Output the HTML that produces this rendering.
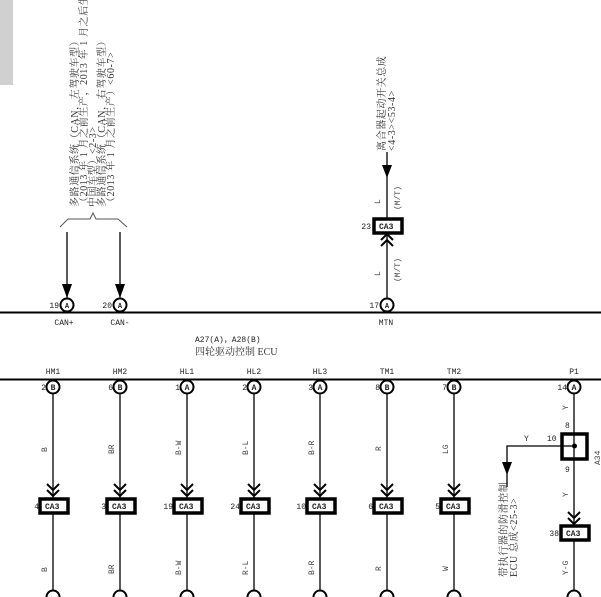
<!DOCTYPE html>
<html><head><meta charset="utf-8"><style>
html,body{margin:0;padding:0;background:#fff;}
svg{display:block;font-family:"Liberation Mono","Noto Sans CJK SC",monospace;}
.t{font-size:8px;fill:#222;}
.w{font-size:8px;fill:#444;}
.cj{font-family:"Liberation Serif","Noto Serif CJK SC",serif;font-size:10px;fill:#333;}
</style></head><body>
<svg width="601" height="597" viewBox="0 0 601 597" xmlns="http://www.w3.org/2000/svg">
<defs>
<g id="cir"><circle r="6.5" fill="#fff" stroke="#000" stroke-width="2"/></g>
<g id="chev" fill="none" stroke="#000" stroke-width="2"><path d="M-6,-14 L0,-8 L6,-14 M-6,-8 L0,-2 L6,-8"/></g>
<g id="box"><rect x="-13" y="-7" width="28" height="14" fill="#fff" stroke="#000" stroke-width="3.5"/></g>
</defs>
<rect x="0" y="0" width="13" height="85" fill="#d0d0d0"/>

<g class="cj">
<text transform="translate(78,207) rotate(-90)" letter-spacing="0.6">多路通信系统（CAN，左驾驶车型）</text>
<text transform="translate(87,207) rotate(-90)" letter-spacing="0.6">（2013 年 1 月之前生产，2013 年 1 月之后生产</text>
<text transform="translate(96,207) rotate(-90)" letter-spacing="0.6">中国车型）&lt;2-3&gt;</text>
<text transform="translate(105,207) rotate(-90)" letter-spacing="0.6">多路通信系统（CAN，右驾驶车型）</text>
<text transform="translate(114,207) rotate(-90)" letter-spacing="0.6">（2013 年 1 月之前生产）&lt;60-7&gt;</text>
<text transform="translate(385,151) rotate(-90)" letter-spacing="0.6">离合器起动开关总成</text>
<text transform="translate(395,151) rotate(-90)" letter-spacing="0.6">&lt;4-3&gt;&lt;53-4&gt;</text>
<text transform="translate(507,577) rotate(-90)" letter-spacing="0.6">带执行器的防滑控制</text>
<text transform="translate(517,577) rotate(-90)" letter-spacing="0.6">ECU 总成&lt;25-3&gt;</text>
</g>
<path d="M60,227 L68,219 L90,219 L93,213 L96,219 L118,219 L127,227" fill="none" stroke="#555" stroke-width="1"/>

<g stroke="#000" stroke-width="1.3">
<line x1="67" y1="232" x2="67" y2="298"/><line x1="120" y1="232" x2="120" y2="298"/>
<line x1="387" y1="152" x2="387" y2="298"/>
</g>
<g fill="#000"><path d="M62,284 L72,284 L67,298Z"/><path d="M115,284 L125,284 L120,298Z"/><path d="M382,165 L392,165 L387,178Z"/></g>

<line x1="0" y1="312.5" x2="601" y2="312.5" stroke="#000" stroke-width="2"/>
<use href="#cir" x="67" y="305"/><use href="#cir" x="120" y="305"/><use href="#cir" x="387" y="305"/>
<g class="t" font-weight="bold" text-anchor="middle">
<text x="67" y="308" font-size="7">A</text><text x="120" y="308" font-size="7">A</text><text x="387" y="308" font-size="7">A</text>
</g>
<g class="t" text-anchor="end"><text x="59" y="308">19</text><text x="112" y="308">20</text><text x="379" y="308">17</text></g>
<g class="t" text-anchor="middle"><text x="64" y="325">CAN+</text><text x="120" y="325">CAN-</text><text x="386" y="325">MTN</text></g>

<use href="#box" x="387" y="226"/><text class="t" x="379" y="229" font-weight="bold">CA3</text>
<text class="t" x="371" y="229" text-anchor="end">23</text>
<g fill="none" stroke="#000" stroke-width="2"><path d="M381,240 L387,234 L393,240 M381,246 L387,240 L393,246"/></g>
<g class="w"><text transform="translate(380,204) rotate(-90)">L</text><text transform="translate(400,210) rotate(-90)">(M/T)</text>
<text transform="translate(380,276) rotate(-90)">L</text><text transform="translate(400,282) rotate(-90)">(M/T)</text></g>

<text class="t" x="195" y="342" font-size="9">A27(A)，A28(B)</text>
<text class="cj" x="195" y="355">四轮驱动控制 ECU</text>

<line x1="0" y1="379.5" x2="601" y2="379.5" stroke="#000" stroke-width="2"/>
<g class="t" text-anchor="middle">
<text x="53" y="374">HM1</text><text x="120" y="374">HM2</text><text x="187" y="374">HL1</text><text x="254" y="374">HL2</text>
<text x="320" y="374">HL3</text><text x="387" y="374">TM1</text><text x="454" y="374">TM2</text><text x="574" y="374">P1</text>
</g>
<g stroke="#000" stroke-width="1.3">
<line x1="53" y1="386" x2="53" y2="597"/><line x1="120" y1="386" x2="120" y2="597"/><line x1="187" y1="386" x2="187" y2="597"/>
<line x1="254" y1="386" x2="254" y2="597"/><line x1="320" y1="386" x2="320" y2="597"/><line x1="387" y1="386" x2="387" y2="597"/>
<line x1="454" y1="386" x2="454" y2="597"/><line x1="574" y1="386" x2="574" y2="597"/>
<polyline points="574,446 507,446 507,487" fill="none"/>
</g>
<path d="M502,462 L512,462 L507,475Z" fill="#000"/>
<g>
<use href="#cir" x="53" y="387"/><use href="#cir" x="120" y="387"/><use href="#cir" x="187" y="387"/><use href="#cir" x="254" y="387"/>
<use href="#cir" x="320" y="387"/><use href="#cir" x="387" y="387"/><use href="#cir" x="454" y="387"/><use href="#cir" x="574" y="387"/>
<use href="#cir" x="53" y="597"/><use href="#cir" x="120" y="597"/><use href="#cir" x="187" y="597"/><use href="#cir" x="254" y="597"/>
<use href="#cir" x="320" y="597"/><use href="#cir" x="387" y="597"/><use href="#cir" x="454" y="597"/><use href="#cir" x="574" y="597"/>
</g>
<g class="t" font-weight="bold" text-anchor="middle" font-size="7">
<text x="53" y="390">B</text><text x="120" y="390">B</text><text x="187" y="390">A</text><text x="254" y="390">A</text>
<text x="320" y="390">A</text><text x="387" y="390">B</text><text x="454" y="390">B</text><text x="574" y="390">A</text>
</g>
<g class="t" text-anchor="end">
<text x="46" y="390">2</text><text x="113" y="390">6</text><text x="180" y="390">1</text><text x="247" y="390">2</text>
<text x="313" y="390">3</text><text x="380" y="390">8</text><text x="447" y="390">7</text><text x="567" y="390">14</text>
</g>
<use href="#chev" x="53" y="498"/><use href="#chev" x="120" y="498"/><use href="#chev" x="187" y="498"/><use href="#chev" x="254" y="498"/>
<use href="#chev" x="320" y="498"/><use href="#chev" x="387" y="498"/><use href="#chev" x="454" y="498"/><use href="#chev" x="574" y="526"/>
<use href="#box" x="53" y="506"/><use href="#box" x="120" y="506"/><use href="#box" x="187" y="506"/><use href="#box" x="254" y="506"/>
<use href="#box" x="320" y="506"/><use href="#box" x="387" y="506"/><use href="#box" x="454" y="506"/><use href="#box" x="574" y="533"/>
<g class="t" font-weight="bold">
<text x="45" y="509">CA3</text><text x="112" y="509">CA3</text><text x="179" y="509">CA3</text><text x="246" y="509">CA3</text>
<text x="312" y="509">CA3</text><text x="379" y="509">CA3</text><text x="446" y="509">CA3</text><text x="566" y="536">CA3</text>
</g>
<g class="t" text-anchor="end">
<text x="39" y="509">4</text><text x="106" y="509">3</text><text x="173" y="509">19</text><text x="240" y="509">24</text>
<text x="306" y="509">10</text><text x="373" y="509">6</text><text x="440" y="509">5</text><text x="559" y="536">38</text>
</g>
<g class="w">
<text transform="translate(47,452) rotate(-90)">B</text><text transform="translate(114,454) rotate(-90)">BR</text>
<text transform="translate(181,455) rotate(-90)">B-W</text><text transform="translate(248,455) rotate(-90)">B-L</text>
<text transform="translate(314,455) rotate(-90)">B-R</text><text transform="translate(381,451) rotate(-90)">R</text>
<text transform="translate(448,454) rotate(-90)">LG</text>
<text transform="translate(47,572) rotate(-90)">B</text><text transform="translate(114,574) rotate(-90)">BR</text>
<text transform="translate(181,575) rotate(-90)">B-W</text><text transform="translate(248,575) rotate(-90)">R-L</text>
<text transform="translate(314,575) rotate(-90)">B-R</text><text transform="translate(381,571) rotate(-90)">R</text>
<text transform="translate(448,571) rotate(-90)">W</text>
<text transform="translate(568,410) rotate(-90)">Y</text><text transform="translate(568,497) rotate(-90)">Y</text>
<text transform="translate(568,575) rotate(-90)">Y-G</text>
<text transform="translate(600,465) rotate(-90)">A34</text>
</g>
<rect x="562" y="434" width="25" height="25" fill="#fff" stroke="#000" stroke-width="3.5"/>
<line x1="574" y1="434" x2="574" y2="459" stroke="#000" stroke-width="1.3"/>
<line x1="562" y1="446" x2="574" y2="446" stroke="#000" stroke-width="1.3"/>
<circle cx="574.5" cy="446" r="2.5" fill="#000"/>
<g class="t"><text x="524" y="441">Y</text><text x="547" y="441">10</text><text x="565" y="428">8</text><text x="565" y="472">9</text></g>
</svg>
</body></html>
